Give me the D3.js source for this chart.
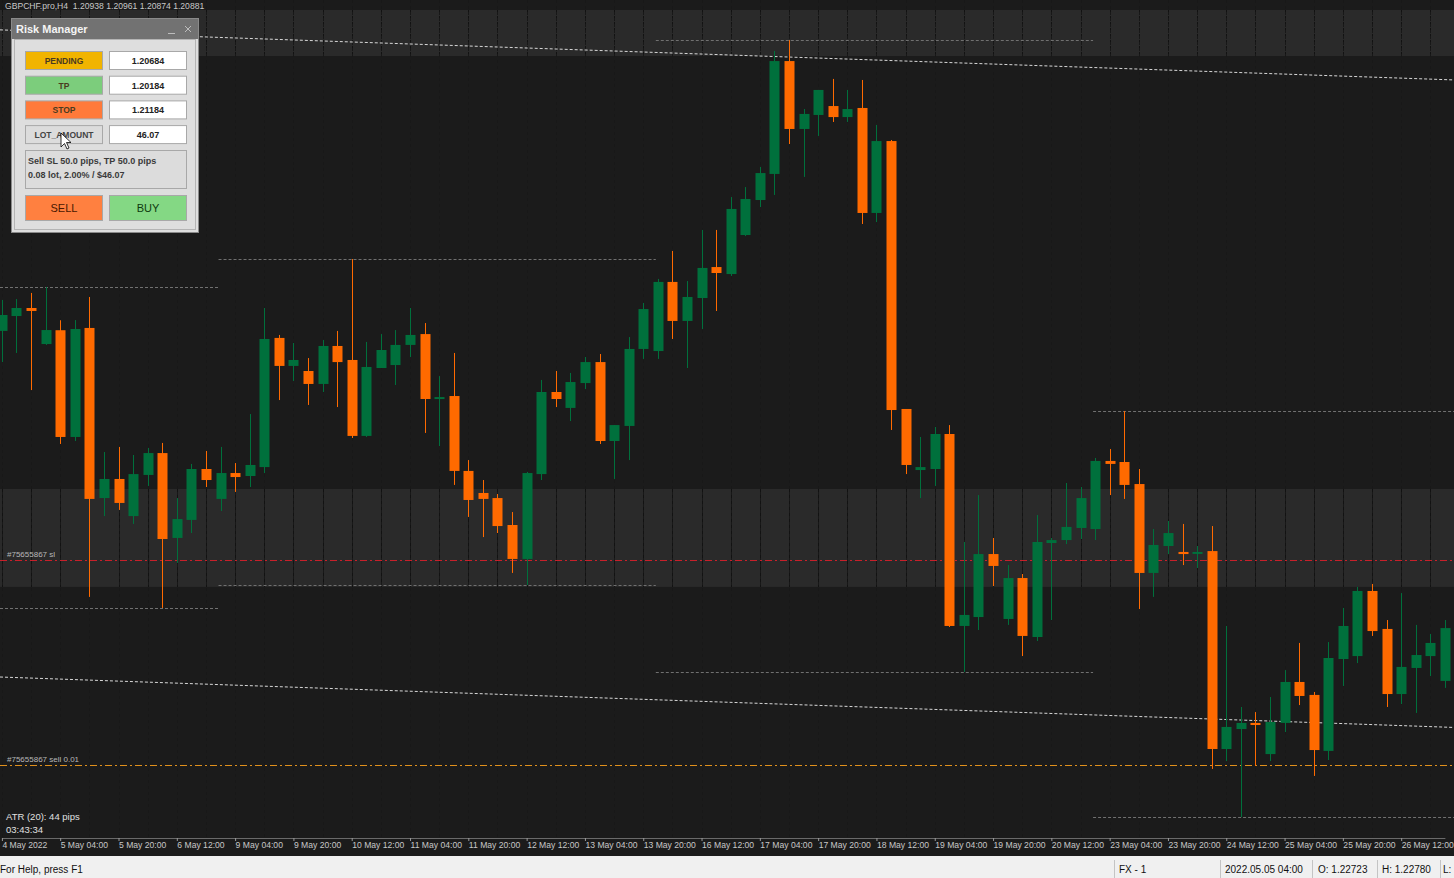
<!DOCTYPE html>
<html><head><meta charset="utf-8">
<script src="https://cdn.jsdelivr.net/npm/d3@7"></script>
<style>
html,body{margin:0;padding:0;background:#1c1c1c;overflow:hidden}
svg{display:block}
</style></head><body>
<svg id="c" width="1454" height="878"></svg>
<script>
// ---------------- data ----------------
const chartTitle = "GBPCHF.pro,H4  1.20938 1.20961 1.20874 1.20881";
const open = [
1.22719,1.22804,1.22850,1.22644,1.22723,1.22113,1.22736,1.21764,1.21873,1.21661,
1.21896,1.22021,1.21536,1.21639,1.21930,1.21759,1.21907,1.21890,1.21941,1.22679,
1.22519,1.22490,1.22416,1.22633,1.22553,1.22119,1.22507,1.22524,1.22639,1.22701,
1.22330,1.22347,1.21919,1.21793,1.21764,1.21610,1.21416,1.21901,1.22370,1.22279,
1.22421,1.22541,1.22090,1.22176,1.22616,1.22604,1.22999,1.22776,1.22907,1.23084,
1.23044,1.23267,1.23467,1.23616,1.24261,1.23873,1.23953,1.24004,1.23941,1.23993,
1.23393,1.23804,1.22273,1.21924,1.21930,1.22130,1.21033,1.21084,1.21444,1.21073,
1.21307,1.20970,1.21507,1.21524,1.21593,1.21587,1.21976,1.21970,1.21844,1.21336,
1.21490,1.21456,1.21450,1.21461,1.20330,1.20444,1.20479,1.20301,1.20479,1.20713,
1.20639,1.20319,1.20844,1.20861,1.21233,1.21016,1.20644,1.20793,1.20861,1.20719];
const high = [
1.22896,1.22901,1.22936,1.22970,1.22780,1.22781,1.22913,1.22027,1.22056,1.22010,
1.22050,1.22079,1.21764,1.21959,1.22033,1.22056,1.21964,1.22244,1.22850,1.22696,
1.22650,1.22564,1.22667,1.22719,1.23130,1.22656,1.22701,1.22724,1.22850,1.22764,
1.22461,1.22593,1.21981,1.21867,1.21787,1.21684,1.21913,1.22439,1.22490,1.22479,
1.22570,1.22587,1.22181,1.22684,1.22879,1.23016,1.23176,1.23004,1.23296,1.23296,
1.23484,1.23541,1.23656,1.24319,1.24381,1.23987,1.24096,1.24159,1.24096,1.24153,
1.23896,1.23810,1.22273,1.22113,1.22170,1.22181,1.21513,1.21781,1.21536,1.21381,
1.21330,1.21667,1.21536,1.21850,1.21827,1.21993,1.22044,1.22261,1.21930,1.21587,
1.21633,1.21616,1.21490,1.21604,1.21033,1.20570,1.20541,1.20627,1.20781,1.20936,
1.20656,1.20941,1.21136,1.21256,1.21273,1.21067,1.21221,1.21039,1.20987,1.21067];
const low = [
1.22541,1.22593,1.22381,1.22639,1.22073,1.22090,1.21199,1.21661,1.21696,1.21616,
1.21833,1.21136,1.21393,1.21564,1.21827,1.21690,1.21799,1.21827,1.21907,1.22324,
1.22433,1.22296,1.22370,1.22284,1.22107,1.22113,1.22507,1.22410,1.22570,1.22136,
1.22061,1.21839,1.21656,1.21541,1.21564,1.21336,1.21267,1.21867,1.22284,1.22204,
1.22387,1.22073,1.21873,1.21981,1.22559,1.22559,1.22673,1.22507,1.22730,1.22833,
1.23033,1.23261,1.23427,1.23496,1.23787,1.23599,1.23833,1.23913,1.23913,1.23330,
1.23341,1.22153,1.21901,1.21764,1.21833,1.21027,1.20770,1.21010,1.21261,1.21039,
1.20861,1.20947,1.21067,1.21501,1.21530,1.21524,1.21781,1.21759,1.21130,1.21199,
1.21444,1.21381,1.21364,1.20216,1.20261,1.19941,1.20233,1.20261,1.20427,1.20581,
1.20176,1.20267,1.20690,1.20821,1.20976,1.20570,1.20587,1.20536,1.20747,1.20679];
const close = [
1.22810,1.22850,1.22833,1.22724,1.22113,1.22730,1.21759,1.21873,1.21736,1.21901,
1.22021,1.21530,1.21644,1.21930,1.21867,1.21907,1.21884,1.21953,1.22673,1.22519,
1.22553,1.22416,1.22633,1.22541,1.22119,1.22513,1.22610,1.22639,1.22696,1.22330,
1.22341,1.21919,1.21753,1.21759,1.21604,1.21416,1.21907,1.22370,1.22330,1.22427,
1.22541,1.22090,1.22181,1.22616,1.22844,1.22999,1.22776,1.22913,1.23079,1.23050,
1.23416,1.23473,1.23621,1.24261,1.23873,1.23959,1.24096,1.23941,1.23987,1.23393,
1.23804,1.22267,1.21953,1.21941,1.22130,1.21033,1.21096,1.21444,1.21376,1.21307,
1.20976,1.21513,1.21524,1.21599,1.21764,1.21976,1.21959,1.21839,1.21336,1.21496,
1.21564,1.21444,1.21456,1.20330,1.20456,1.20479,1.20467,1.20484,1.20713,1.20633,
1.20324,1.20850,1.21033,1.21233,1.21004,1.20644,1.20799,1.20867,1.20936,1.21021];
const tickLabels = ["4 May 2022","5 May 04:00","5 May 20:00","6 May 12:00","9 May 04:00","9 May 20:00",
"10 May 12:00","11 May 04:00","11 May 20:00","12 May 12:00","13 May 04:00","13 May 20:00","16 May 12:00",
"17 May 04:00","17 May 20:00","18 May 12:00","19 May 04:00","19 May 20:00","20 May 12:00","23 May 04:00",
"23 May 20:00","24 May 12:00","25 May 04:00","25 May 20:00","26 May 12:00"];
const barsPerTick = 4;
const weekStarts = [0, 15, 45, 75];
const zones = [[1.24290, 1.24553], [1.21256, 1.21816]];
const trendTop = [[0, 1.24439], [99, 1.24155]];
const trendBottom = [[0, 1.20741], [99, 1.20455]];
const slPrice = 1.21410, sellPrice = 1.20239;
const orderSlLabel = "#75655867 sl", orderLabel = "#75655867 sell 0.01";
const infoLines = ["ATR (20): 44 pips", "03:43:34"];
const panelRows = [["PENDING","1.20684","#f1b400"],["TP","1.20184","#7ccd7c"],["STOP","1.21184","#ff7a3a"],["LOT_AMOUNT","46.07","#dcdcdc"]];
const panelInfo = ["Sell SL 50.0 pips, TP 50.0 pips","0.08 lot, 2.00% / $46.07"];
const statusItems = [["FX - 1",1119],["2022.05.05 04:00",1225],["O: 1.22723",1318],["H: 1.22780",1382],["L:",1443]];
const statusSeps = [1114,1220,1312,1377,1440];

// ---------------- chart ----------------
const W = 1454, H = 878, plotH = 838;
const svg = d3.select("#c");
const font = "'Liberation Sans', Arial, sans-serif";
const n = open.length;
const x = d3.scaleLinear().domain([0, 99]).range([1.9, 1444.9]);
const y = d3.scaleLinear().domain([1.24610, 1.198214]).range([0, plotH]);

svg.append("rect").attr("width", W).attr("height", plotH).attr("fill", "#1b1b1b");

// zones
svg.append("g").selectAll("rect").data(zones).join("rect")
  .attr("x", 0).attr("width", W)
  .attr("y", d => y(d[1])).attr("height", d => y(d[0]) - y(d[1]))
  .attr("fill", "#2a2a2a");

// vertical grid (visible on the lighter zones)
const gridIdx = d3.range(0, n, 2);
const gg = svg.append("g");
zones.forEach(z => {
  gg.append("g").selectAll("line").data(gridIdx).join("line")
    .attr("x1", d => Math.round(x(d)) + 0.5).attr("x2", d => Math.round(x(d)) + 0.5)
    .attr("y1", y(z[1])).attr("y2", y(z[0]))
    .attr("stroke", "#121212").attr("stroke-dasharray", "3,3");
});
svg.append("g").selectAll("line").data(gridIdx).join("line")
  .attr("x1", d => Math.round(x(d)) + 0.5).attr("x2", d => Math.round(x(d)) + 0.5)
  .attr("y1", 0).attr("y2", plotH)
  .attr("stroke", "#181818").attr("stroke-dasharray", "3,3");

// weekly high / low levels
const weeks = weekStarts.map((s, k) => {
  const e = k < weekStarts.length - 1 ? weekStarts[k + 1] - 1 : n - 1;
  const idx = d3.range(s, e + 1);
  return {
    x1: k === 0 ? 0 : x(s) - 2,
    x2: k < weekStarts.length - 1 ? x(weekStarts[k + 1]) - 2 : W,
    hi: d3.max(idx, i => high[i]), lo: d3.min(idx, i => low[i])
  };
});
const wl = svg.append("g").attr("stroke", "#707070").attr("stroke-dasharray", "3,2").attr("stroke-width", 1);
weeks.forEach(w => {
  [w.hi, w.lo].forEach(p => {
    wl.append("line").attr("x1", w.x1).attr("x2", w.x2)
      .attr("y1", Math.round(y(p)) + 0.5).attr("y2", Math.round(y(p)) + 0.5);
  });
});

// trend lines (extended rays)
function trend(a) {
  const slope = (a[1][1] - a[0][1]) / (a[1][0] - a[0][0]);
  const i0 = x.invert(0), i1 = x.invert(W);
  return [[0, y(a[0][1] + slope * (i0 - a[0][0]))], [W, y(a[0][1] + slope * (i1 - a[0][0]))]];
}
[trendTop, trendBottom].forEach(t => {
  const p = trend(t);
  svg.append("line").attr("x1", p[0][0]).attr("y1", p[0][1]).attr("x2", p[1][0]).attr("y2", p[1][1])
    .attr("stroke", "#d8d8d8").attr("stroke-width", 1).attr("stroke-dasharray", "3,2");
});

// order lines
svg.append("line").attr("x1", 0).attr("x2", W).attr("y1", Math.round(y(slPrice)) + 0.5).attr("y2", Math.round(y(slPrice)) + 0.5)
  .attr("stroke", "#c8202a").attr("stroke-dasharray", "7,3,2,3");
svg.append("line").attr("x1", 0).attr("x2", W).attr("y1", Math.round(y(sellPrice)) + 0.5).attr("y2", Math.round(y(sellPrice)) + 0.5)
  .attr("stroke", "#e0901c").attr("stroke-dasharray", "7,3,2,3");
svg.append("text").attr("x", 7).attr("y", y(slPrice) - 3).text(orderSlLabel)
  .attr("font-family", font).attr("font-size", 8).attr("fill", "#b8b8b8");
svg.append("text").attr("x", 7).attr("y", y(sellPrice) - 3).text(orderLabel)
  .attr("font-family", font).attr("font-size", 8).attr("fill", "#b8b8b8");

// candles
const bars = d3.range(n).map(i => ({i, o: open[i], h: high[i], l: low[i], c: close[i]}));
const green = "#00703c", orange = "#ff6a00";
const cg = svg.append("g");
cg.selectAll("line").data(bars).join("line")
  .attr("x1", d => Math.round(x(d.i)) + 0.5).attr("x2", d => Math.round(x(d.i)) + 0.5)
  .attr("y1", d => y(d.h)).attr("y2", d => y(d.l))
  .attr("stroke", d => d.c >= d.o ? green : orange).attr("stroke-width", 1);
cg.selectAll("rect").data(bars).join("rect")
  .attr("x", d => Math.round(x(d.i)) - 4.5).attr("width", 10)
  .attr("y", d => y(Math.max(d.o, d.c)))
  .attr("height", d => Math.max(2, Math.abs(y(d.o) - y(d.c))))
  .attr("fill", d => d.c >= d.o ? green : orange);

// title
svg.append("text").attr("x", 5).attr("y", 9).text(chartTitle)
  .attr("font-family", font).attr("font-size", 8.6).attr("fill", "#c8c8c8").attr("xml:space", "preserve");

// info text
svg.append("g").selectAll("text").data(infoLines).join("text")
  .attr("x", 6).attr("y", (d, k) => 820 + k * 13).text(d => d)
  .attr("font-family", font).attr("font-size", 9.5).attr("fill", "#e0e0e0");

// x axis
svg.append("rect").attr("y", plotH).attr("width", W).attr("height", 18).attr("fill", "#1b1b1b");
const tickIdx = tickLabels.map((_, k) => k * barsPerTick);
const ax = svg.append("g").attr("transform", `translate(0,${plotH})`)
  .call(d3.axisBottom(x).tickValues(tickIdx).tickFormat((d, k) => tickLabels[k]).tickSize(3).tickSizeOuter(0));
ax.select(".domain").attr("stroke", "#6a6a6a");
ax.selectAll(".tick line").attr("stroke", "#9a9a9a");
ax.selectAll(".tick text").attr("text-anchor", "start").attr("dx", 0).attr("y", 4)
  .attr("font-family", font).attr("font-size", 8.6).attr("fill", "#c8c8c8");

// status bar
svg.append("rect").attr("y", 856).attr("width", W).attr("height", 22).attr("fill", "#f0f0f0");
svg.append("text").attr("x", 0).attr("y", 873).text("For Help, press F1")
  .attr("font-family", font).attr("font-size", 10).attr("fill", "#111");
svg.append("g").selectAll("line").data(statusSeps).join("line")
  .attr("x1", d => d + 0.5).attr("x2", d => d + 0.5).attr("y1", 860).attr("y2", 878).attr("stroke", "#c4c4c4");
svg.append("g").selectAll("text").data(statusItems).join("text")
  .attr("x", d => d[1]).attr("y", 873).text(d => d[0])
  .attr("font-family", font).attr("font-size", 10).attr("fill", "#111");

// ---------------- Risk Manager panel ----------------
const pg = svg.append("g");
pg.append("rect").attr("x", 11.5).attr("y", 18.5).attr("width", 187).attr("height", 214)
  .attr("fill", "#dedede").attr("stroke", "#8a8a8a");
pg.append("rect").attr("x", 12).attr("y", 19).attr("width", 186).attr("height", 20).attr("fill", "#727272");
pg.append("text").attr("x", 16).attr("y", 33).text("Risk Manager")
  .attr("font-family", font).attr("font-size", 11).attr("font-weight", "bold").attr("fill", "#f4f4f4");
pg.append("line").attr("x1", 168).attr("x2", 175).attr("y1", 33.5).attr("y2", 33.5).attr("stroke", "#bdbdbd");
pg.append("path").attr("d", "M185,26 L191,32 M191,26 L185,32").attr("stroke", "#bdbdbd").attr("stroke-width", 1);
pg.append("rect").attr("x", 14.5).attr("y", 39.5).attr("width", 181).attr("height", 190)
  .attr("fill", "none").attr("stroke", "#b4b4b4");
panelRows.forEach((r, k) => {
  const yy = 51 + k * 24.7;
  pg.append("rect").attr("x", 25.5).attr("y", yy + 0.5).attr("width", 77).attr("height", 18)
    .attr("fill", r[2]).attr("stroke", "#a8a8a8");
  pg.append("text").attr("x", 64).attr("y", yy + 13).attr("text-anchor", "middle").text(r[0])
    .attr("font-family", font).attr("font-size", 8.5).attr("font-weight", "bold").attr("fill", k === 3 ? "#444" : "#4a3a20");
  pg.append("rect").attr("x", 109.5).attr("y", yy + 0.5).attr("width", 77).attr("height", 18)
    .attr("fill", "#ffffff").attr("stroke", "#a8a8a8");
  pg.append("text").attr("x", 148).attr("y", yy + 13).attr("text-anchor", "middle").text(r[1])
    .attr("font-family", font).attr("font-size", 9).attr("font-weight", "bold").attr("fill", "#222");
});
pg.append("rect").attr("x", 25.5).attr("y", 150.5).attr("width", 161).attr("height", 38)
  .attr("fill", "#dcdcdc").attr("stroke", "#a8a8a8");
pg.selectAll(".pinfo").data(panelInfo).join("text").attr("class", "pinfo")
  .attr("x", 28).attr("y", (d, k) => 164 + k * 14).text(d => d)
  .attr("font-family", font).attr("font-size", 9).attr("font-weight", "bold").attr("fill", "#3a3a3a");
[["SELL", 25.5, "#ff8040", "#4a1800"], ["BUY", 109.5, "#84d884", "#0e3a0e"]].forEach(b => {
  pg.append("rect").attr("x", b[1]).attr("y", 195.5).attr("width", 77).attr("height", 25)
    .attr("fill", b[2]).attr("stroke", "#a8a8a8");
  pg.append("text").attr("x", b[1] + 38.5).attr("y", 212).attr("text-anchor", "middle").text(b[0])
    .attr("font-family", font).attr("font-size", 11).attr("fill", b[3]);
});
// mouse cursor
pg.append("path").attr("d", "M61,133 L61,147 L64.5,143.5 L67,149 L69,148 L66.5,142.5 L71,142.5 Z")
  .attr("fill", "#fff").attr("stroke", "#000").attr("stroke-width", 0.8);
</script>
</body></html>
